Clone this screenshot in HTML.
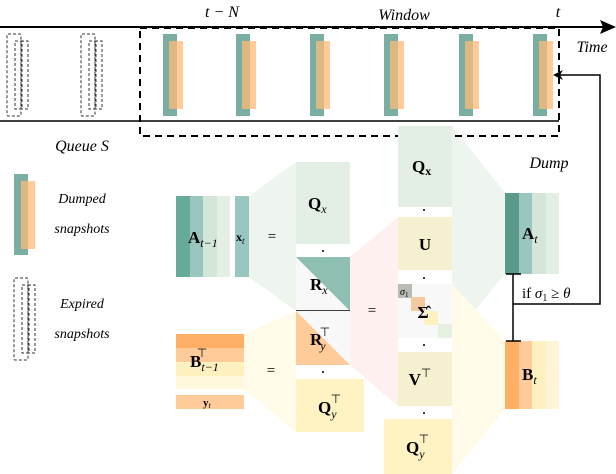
<!DOCTYPE html>
<html><head><meta charset="utf-8"><style>
body{margin:0;background:#fff;}
svg{display:block;}
text{font-family:"Liberation Serif",serif;}
.it{font-style:italic;}
.b{font-weight:bold;}
</style></head><body>
<svg width="616" height="474" viewBox="0 0 616 474" xmlns="http://www.w3.org/2000/svg">
<defs>
<g id="snap"><rect x="0" y="34" width="14" height="82" fill="#7aaea2"/><rect x="6" y="41" width="14" height="68" fill="#ffbb77" opacity="0.75"/></g>
<g id="exp" fill="none" stroke="#333" stroke-width="1" stroke-dasharray="3,2"><rect x="0" y="0" width="14" height="82" rx="1"/><rect x="8" y="7" width="7" height="68"/><rect x="14" y="7" width="7" height="68"/></g>
</defs>
<!-- background polygons -->
<polygon points="249,196 296,162 296,311 249,277" fill="#eef5ee"/>
<polygon points="244,334 296,311 296,432 244,389" fill="#fffbe8"/>
<polygon points="350,257 398,217 398,406 350,365" fill="#fdf0ee"/>
<polygon points="452,126 505,193 505,274 452,338" fill="#eef5ee"/>
<polygon points="452,284 505,341 505,409 452,474" fill="#fffbe8"/>
<!-- top timeline -->
<line x1="0" y1="27" x2="603" y2="27" stroke="#000" stroke-width="2"/>
<polygon points="616,27 600,20 603,27 600,34" fill="#000"/>
<line x1="0" y1="121" x2="559" y2="121" stroke="#000" stroke-width="1.5"/>
<rect x="140" y="28" width="419" height="108" fill="none" stroke="#000" stroke-width="2" stroke-dasharray="7,5"/>
<use href="#exp" x="7" y="34"/>
<use href="#exp" x="81" y="34"/>
<use href="#snap" x="163"/><use href="#snap" x="236"/><use href="#snap" x="310"/>
<use href="#snap" x="384"/><use href="#snap" x="459"/><use href="#snap" x="533"/>
<text x="222" y="17" class="it" font-size="16" text-anchor="middle">t − N</text>
<text x="404" y="20" class="it" font-size="16" text-anchor="middle">Window</text>
<text x="558" y="17" class="it" font-size="16" text-anchor="middle">t</text>
<text x="592" y="52" class="it" font-size="16" text-anchor="middle">Time</text>
<text x="82" y="151" class="it" font-size="16" text-anchor="middle">Queue S</text>
<text x="549" y="168" class="it" font-size="16" text-anchor="middle">Dump</text>
<!-- legend -->
<rect x="14" y="174" width="14" height="81" fill="#7aaea2"/>
<rect x="21" y="181" width="14" height="68" fill="#ffbb77" opacity="0.75"/>
<text x="82" y="203" class="it" font-size="14" text-anchor="middle">Dumped</text>
<text x="82" y="233" class="it" font-size="14" text-anchor="middle">snapshots</text>
<use href="#exp" x="14" y="278"/>
<text x="82" y="308" class="it" font-size="14" text-anchor="middle">Expired</text>
<text x="82" y="338" class="it" font-size="14" text-anchor="middle">snapshots</text>
<!-- A_{t-1} -->
<rect x="176" y="196" width="14" height="81" fill="#66aa9a"/>
<rect x="190" y="196" width="13" height="81" fill="#99c7bf"/>
<rect x="203" y="196" width="14" height="81" fill="#d3e6d8"/>
<rect x="217" y="196" width="13" height="81" fill="#e3efe5"/>
<text x="188" y="243" class="b" font-size="17">A<tspan class="it" font-weight="normal" font-size="12" dy="4">t−1</tspan></text>
<rect x="235" y="196" width="14" height="81" fill="#99c7bf"/>
<text x="236" y="241" class="b" font-size="12">x<tspan class="it" font-weight="normal" font-size="9" dy="3">t</tspan></text>
<text x="272" y="241" font-size="15" text-anchor="middle">=</text>
<!-- Q_x R_x -->
<rect x="296" y="162" width="54" height="82" fill="#e3efe5"/>
<text x="308" y="209" class="b" font-size="17">Q<tspan class="it" font-weight="normal" font-size="12" dy="4">x</tspan></text>
<circle cx="323" cy="251" r="1" fill="#000"/>
<rect x="296" y="257" width="54" height="54" fill="#f8f8f8"/>
<polygon points="296,257 350,257 350,311" fill="#8fbfb2"/>
<text x="310" y="290" class="b" font-size="17">R<tspan class="it" font-weight="normal" font-size="12" dy="4">x</tspan></text>
<line x1="296" y1="311" x2="350" y2="311" stroke="#000" stroke-width="1.5"/>
<rect x="296" y="311" width="54" height="54" fill="#f8f8f8"/>
<polygon points="296,311 350,365 296,365" fill="#ffcc99"/>
<text x="310" y="345" class="b" font-size="17">R<tspan class="it" font-weight="normal" font-size="12" dx="-2" dy="5">y</tspan><tspan font-weight="normal" font-size="12" dx="-6" dy="-14">⊤</tspan></text>
<circle cx="323" cy="372" r="1" fill="#000"/>
<rect x="296" y="379" width="68" height="53" fill="#fff3c4"/>
<text x="318" y="413" class="b" font-size="17">Q<tspan class="it" font-weight="normal" font-size="12" dy="5">y</tspan><tspan font-weight="normal" font-size="12" dx="-6" dy="-15">⊤</tspan></text>
<!-- B -->
<rect x="176" y="334" width="68" height="14" fill="#ffb066"/>
<rect x="176" y="348" width="68" height="14" fill="#ffcc99"/>
<rect x="176" y="362" width="68" height="14" fill="#fff0c0"/>
<rect x="176" y="376" width="68" height="13" fill="#fff8dd"/>
<text x="190" y="367" class="b" font-size="17">B<tspan class="it" font-weight="normal" font-size="12" dy="4">t−1</tspan><tspan font-weight="normal" font-size="12" dx="-22" dy="-14">⊤</tspan></text>
<rect x="176" y="395" width="68" height="14" fill="#ffcc99"/>
<text x="203" y="406" class="b" font-size="11">y<tspan class="it" font-weight="normal" font-size="8" dy="2">t</tspan></text>
<text x="271" y="375" font-size="15" text-anchor="middle">=</text>
<text x="372" y="315" font-size="15" text-anchor="middle">=</text>
<!-- right column -->
<rect x="398" y="126" width="54" height="81" fill="#e3efe5"/>
<text x="412" y="172" class="b" font-size="17">Q<tspan font-size="12" dy="3">x</tspan></text>
<circle cx="424" cy="210" r="1" fill="#000"/>
<rect x="398" y="217" width="54" height="53" fill="#f5f0d0"/>
<text x="425" y="250" class="b" font-size="17" text-anchor="middle">U</text>
<circle cx="424" cy="278" r="1" fill="#000"/>
<rect x="398" y="284" width="54" height="54" fill="#f8f8f8"/>
<rect x="398" y="284" width="14" height="14" fill="#b8bcb4"/>
<rect x="411" y="297" width="14" height="14" fill="#f5c9a0"/>
<rect x="424" y="311" width="14" height="14" fill="#fff0c0"/>
<rect x="438" y="324" width="14" height="14" fill="#e6f0e0"/>
<text x="400" y="295" class="it" font-size="10">σ<tspan font-size="7" font-style="normal" dy="2">1</tspan></text>
<text x="423" y="318" class="b" font-size="17" text-anchor="middle">Σ̂</text>
<circle cx="424" cy="345" r="1" fill="#000"/>
<rect x="398" y="352" width="54" height="54" fill="#f5f0d0"/>
<text x="420" y="385" class="b" font-size="17" text-anchor="middle">V<tspan font-weight="normal" font-size="12" dy="-8">⊤</tspan></text>
<circle cx="424" cy="413" r="1" fill="#000"/>
<rect x="384" y="419" width="68" height="55" fill="#fff3c4"/>
<text x="406" y="453" class="b" font-size="17">Q<tspan class="it" font-weight="normal" font-size="12" dy="5">y</tspan><tspan font-weight="normal" font-size="12" dx="-6" dy="-15">⊤</tspan></text>
<!-- A_t B_t -->
<rect x="505" y="193" width="14" height="81" fill="#5a9a8a"/>
<rect x="519" y="193" width="13" height="81" fill="#99c7bf"/>
<rect x="532" y="193" width="14" height="81" fill="#d3e6d8"/>
<rect x="546" y="193" width="13" height="81" fill="#e3efe5"/>
<text x="522" y="239" class="b" font-size="17">A<tspan class="it" font-weight="normal" font-size="12" dy="4">t</tspan></text>
<rect x="505" y="341" width="14" height="68" fill="#ffb066"/>
<rect x="519" y="341" width="13" height="68" fill="#ffcc99"/>
<rect x="532" y="341" width="14" height="68" fill="#fff0c0"/>
<rect x="546" y="341" width="13" height="68" fill="#fff5d6"/>
<text x="522" y="380" class="b" font-size="17">B<tspan class="it" font-weight="normal" font-size="12" dy="4">t</tspan></text>
<!-- connectors -->
<line x1="513" y1="274" x2="513" y2="341" stroke="#000" stroke-width="1.5"/>
<line x1="506" y1="274" x2="521" y2="274" stroke="#000" stroke-width="1.5"/>
<line x1="506" y1="341" x2="521" y2="341" stroke="#000" stroke-width="1.5"/>
<polyline points="513,304 600,304 600,75 560,75" fill="none" stroke="#000" stroke-width="1.5"/>
<polygon points="553,75 563,70 560,75 563,80" fill="#000"/>
<text x="522" y="298" font-size="15">if <tspan class="it">σ</tspan><tspan font-size="10" dy="3">1</tspan><tspan dy="-3"> ≥ </tspan><tspan class="it">θ</tspan></text>
</svg>
</body></html>
